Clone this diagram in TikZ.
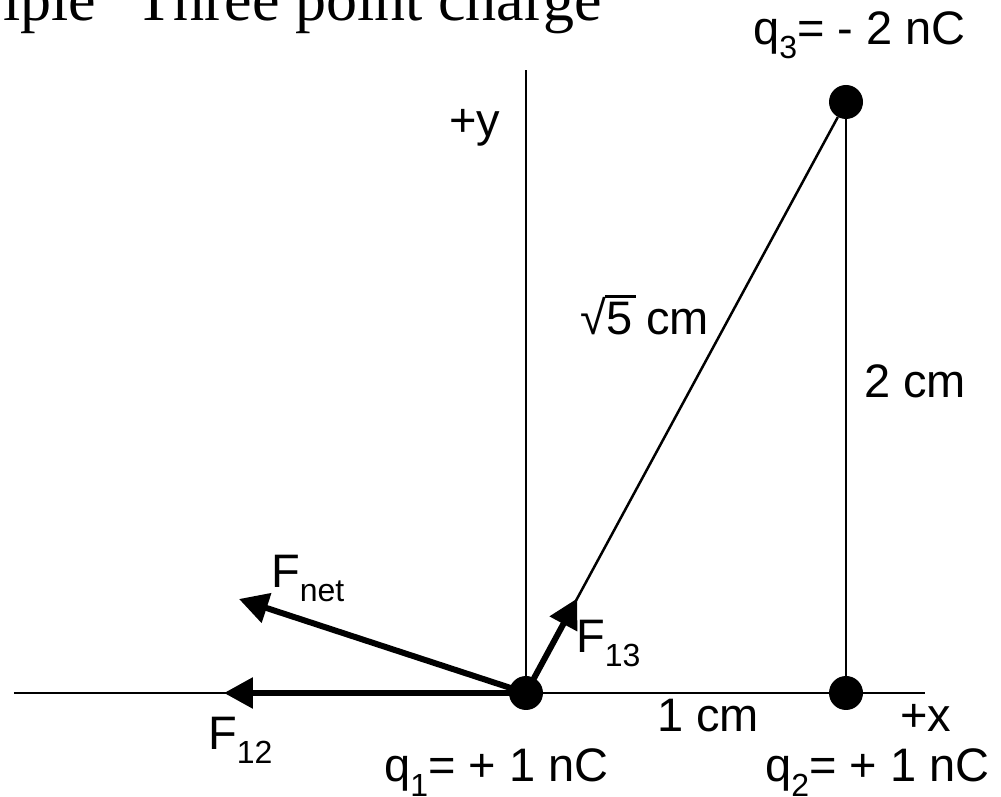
\documentclass[tikz,border=0pt]{standalone}
\usepackage{fontspec}
\setmainfont{Liberation Sans}
\newfontfamily\titlefont{Liberation Serif}
\usetikzlibrary{arrows.meta, calc}
\newcommand{\lowsub}[1]{\raisebox{-14pt}{\fontsize{32}{32}\selectfont #1}}
\newcommand{\rootfive}{√\kern-1pt\rlap{\rule[37pt]{31pt}{2.5pt}}\kern2pt 5}

\begin{document}
\begin{tikzpicture}[x=1pt, y=1pt,
  thinline/.style={line width=2.5pt},
  charge/.style={circle, fill=black, inner sep=0pt, minimum size=34pt},
  force/.style={line width=6pt, -{Triangle[length=29pt, width=30pt]}},
  lab/.style={inner sep=0pt, anchor=base west, font=\fontsize{47}{56}\selectfont}]
  \useasboundingbox (-526,-104) rectangle (475,693);

  % Title, cut by the top edge
  \node[inner sep=0pt, anchor=base west, font=\titlefont\fontsize{62}{74}\selectfont]
    (title) at (-523,672) {iple\hspace{39pt}Three point charge};

  % Charges
  \node[charge] (q1) at (0,0) {};
  \node[charge] (q2) at (320,0) {};
  \node[charge] (q3) at (320,591) {};

  % Axes
  \coordinate (xl) at (-512,0);
  \coordinate (xr) at (399,0);
  \coordinate (yt) at (0,623);
  \draw[thinline] (xl) -- (xr);
  \draw[thinline] (q1.center) -- (yt);

  % Sides
  \draw[thinline] (q1) -- (q3);
  \draw[thinline] (q2) -- (q3);

  % Forces on q1
  \coordinate (t12) at (-302,0);
  \coordinate (tnet) at (-287,94);
  \coordinate (t13) at ($(q1.center)!0.16!(q3.center)$);
  \draw[force] (q1.center) -- (t12);
  \draw[force] (q1.center) -- (tnet);
  \draw[force] (q1.center) -- (t13);

  % Labels
  \node[lab] (ly) at (-77,556) {+y};
  \node[lab] (lx) at (374,-39) {+x};
  \node[lab] (lhyp) at (54,358) {\rootfive\ cm};
  \node[lab] (lside) at (338,295) {2 cm};
  \node[lab] (lbase) at (131,-39) {1 cm};
  \node[lab] (lq1) at (-142,-89) {q\lowsub{1}= + 1 nC};
  \node[lab] (lq2) at (239,-89) {q\lowsub{2}= + 1 nC};
  \node[lab] (lq3) at (227,648) {q\lowsub{3}= - 2 nC};
  \node[lab] (lf12) at (-318,-57) {F\lowsub{12}};
  \node[lab] (lfnet) at (-255,105) {F\lowsub{net}};
  \node[lab] (lf13) at (50,40) {F\lowsub{13}};
\end{tikzpicture}
\end{document}
